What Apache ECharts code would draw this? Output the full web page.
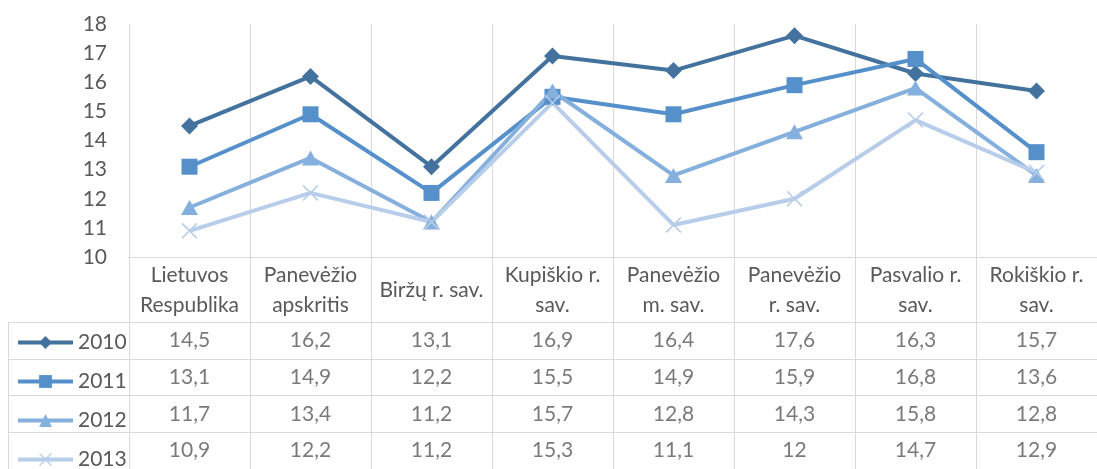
<!DOCTYPE html>
<html>
<head>
<meta charset="utf-8">
<script src="https://cdn.jsdelivr.net/npm/echarts@6/dist/echarts.min.js"></script>
<style>
html, body { margin: 0; padding: 0; background: #fff; }
#main { width: 1097px; height: 469px; }
</style>
</head>
<body>
<div id="main"></div>
<script>
var categories = ['Lietuvos\nRespublika', 'Panevėžio\napskritis', 'Biržų r. sav.', 'Kupiškio r.\nsav.',
  'Panevėžio\nm. sav.', 'Panevėžio\nr. sav.', 'Pasvalio r.\nsav.', 'Rokiškio r.\nsav.'];
var years = ['2010', '2011', '2012', '2013'];
var v2010 = [14.5, 16.2, 13.1, 16.9, 16.4, 17.6, 16.3, 15.7];
var v2011 = [13.1, 14.9, 12.2, 15.5, 14.9, 15.9, 16.8, 13.6];
var v2012 = [11.7, 13.4, 11.2, 15.7, 12.8, 14.3, 15.8, 12.8];
var v2013 = [10.9, 12.2, 11.2, 15.3, 11.1, 12, 14.7, 12.9];
var yMin = 10, yMax = 18, yStep = 1;

var colors = ['#44729e', '#5590ca', '#85afdd', '#b7cde9'];
var symbols = ['diamond', 'rect', 'triangle',
  'path://M0,1.4L1.4,0L10,8.6L18.6,0L20,1.4L11.4,10L20,18.6L18.6,20L10,11.4L1.4,20L0,18.6L8.6,10Z'];
var sizes = [17, 16, [17, 15], 16];
var allValues = [v2010, v2011, v2012, v2013];

var font = 'Lato';
var fs = 21;
var txt = '#595959';
var grid = '#d9d9d9';

var myChart = echarts.init(document.getElementById('main'));

var series = [];
years.forEach(function (y, i) {
  series.push({
    name: y,
    type: 'line',
    xAxisIndex: 0,
    yAxisIndex: 0,
    data: allValues[i],
    symbol: symbols[i],
    symbolSize: sizes[i],
    itemStyle: { color: colors[i] },
    lineStyle: { color: colors[i], width: 4 }
  });
});

// tabulka po grafu
var cells = [];
years.forEach(function (y, i) {
  allValues[i].forEach(function (v, c) {
    cells.push([c + 1, i, v]);
  });
});
series.push({
  name: 'table',
  type: 'scatter',
  xAxisIndex: 2,
  yAxisIndex: 2,
  silent: true,
  symbolSize: 2,
  itemStyle: { color: 'rgba(0,0,0,0)' },
  data: cells,
  label: {
    show: true,
    position: 'inside',
    color: txt,
    fontFamily: font,
    fontSize: fs,
    formatter: function (p) { return String(p.value[2]).replace('.', ','); }
  }
});

var option = {
  animation: false,
  grid: [
    { left: 129, width: 978, top: 24, height: 233 },
    { left: 129, width: 978, top: 257, height: 65 },
    { left: 8, width: 1100, top: 322, height: 155 }
  ],
  legend: {
    data: years,
    orient: 'vertical',
    left: 16,
    top: 332,
    height: 300,
    padding: 0,
    itemWidth: 55,
    itemHeight: 16,
    itemGap: 18,
    selectedMode: false,
    lineStyle: { width: 4 },
    textStyle: { color: txt, fontFamily: font, fontSize: fs }
  },
  xAxis: [
    {
      type: 'category', gridIndex: 0, data: categories, boundaryGap: true,
      axisLine: { lineStyle: { color: grid, width: 1 } },
      axisTick: { show: false },
      splitLine: { show: true, lineStyle: { color: grid, width: 1 } },
      axisLabel: {
        color: txt, fontFamily: font, fontSize: fs, lineHeight: 30,
        margin: 33, verticalAlign: 'middle', interval: 0
      }
    },
    {
      type: 'category', gridIndex: 1, data: categories, boundaryGap: true,
      axisLine: { show: false }, axisTick: { show: false }, axisLabel: { show: false },
      splitLine: { show: true, lineStyle: { color: grid, width: 1 } }
    },
    {
      type: 'category', gridIndex: 2, data: [''].concat(categories), boundaryGap: true,
      axisLine: { show: false }, axisTick: { show: false }, axisLabel: { show: false },
      splitLine: { show: true, lineStyle: { color: grid, width: 1 } }
    }
  ],
  yAxis: [
    {
      type: 'value', gridIndex: 0, min: yMin, max: yMax, interval: yStep,
      axisLine: { show: false }, axisTick: { show: false },
      splitLine: { show: false },
      axisLabel: { color: txt, fontFamily: font, fontSize: fs, margin: 22 }
    },
    {
      type: 'value', gridIndex: 1, show: false
    },
    {
      type: 'category', gridIndex: 2, data: years, inverse: true, boundaryGap: true,
      axisLine: { show: false }, axisTick: { show: false }, axisLabel: { show: false },
      splitLine: { show: true, lineStyle: { color: grid, width: 1 } }
    }
  ],
  series: series
};

myChart.setOption(option);
</script>
</body>
</html>
